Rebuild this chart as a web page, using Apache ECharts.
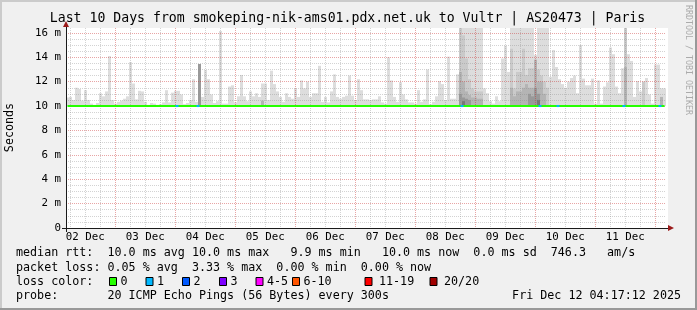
<!DOCTYPE html>
<html><head><meta charset="utf-8">
<script src="https://cdn.jsdelivr.net/npm/echarts@6/dist/echarts.min.js"></script>
<style>html,body{margin:0;padding:0;background:#f0f0f0}#c{width:697px;height:310px}</style>
</head><body><div id="c"></div>
<script>
// ---------------- data ----------------
const titleText = 'Last 10 Days from smokeping-nik-ams01.pdx.net.uk to Vultr | AS20473 | Paris';
const yAxisTitle = 'Seconds';
const watermark = 'RRDTOOL / TOBI OETIKER';
const dayLabels = ['02 Dec','03 Dec','04 Dec','05 Dec','06 Dec','07 Dec','08 Dec','09 Dec','10 Dec','11 Dec'];
const rangeStartHour = 4.2867;   // hours after 02 Dec 00:00 (Dec 2 04:17:12)
const rangeEndHour = 244.2867;   // Dec 12 04:17:12
const yTicks = [0, 2, 4, 6, 8, 10, 12, 14, 16];
const yMaxMs = 16.4;
const smokeFloor = 10.0;

// highest ping per 72-minute column (ms)
const smokeMax = [
  10.7,10.75,10.5,11.5,11.4,10.45,11.3,10.5,10.2,10.1,
  10.25,11.05,10.8,11.2,14.1,10.5,10.2,10.35,10.45,10.6,
  10.8,13.6,11.85,10.55,11.25,11.2,10.35,10.1,10.25,10.2,
  10.1,10.15,10.3,11.3,10.3,11.1,11.25,11.25,10.95,10.15,
  10.25,10.5,12.2,10.35,13.45,10.75,12.95,12.2,10.95,10.25,
  10.4,16.15,10.2,10.2,11.6,11.7,10.3,10.8,12.55,10.8,
  10.4,11.2,10.8,11.05,10.75,11.85,11.85,10.5,12.9,11.8,
  11.2,10.75,10.35,11.05,10.75,10.6,11.45,10.75,12.1,11.45,
  12.0,10.75,11.05,11.05,13.3,10.35,10.75,10.3,11.2,12.6,
  10.75,10.6,10.75,10.85,12.5,10.85,10.5,12.2,11.3,10.55,
  10.55,10.5,10.55,10.55,10.8,10.3,10.2,14.0,12.1,10.75,
  10.35,11.95,10.95,10.55,10.3,10.3,10.2,11.3,10.35,10.55,
  13.0,10.15,10.35,10.8,12.05,11.8,10.5,14.05,10.6,10.6,
  12.6,16.4,16.4,16.4,16.4,16.4,16.4,16.4,16.4,11.45,
  11.05,10.4,10.2,10.8,10.4,13.9,14.95,12.8,16.4,16.4,
  16.4,16.4,16.4,16.4,16.4,16.4,14.2,16.4,16.4,16.4,
  16.4,12.4,14.6,13.2,12.2,11.8,11.5,12.0,12.3,12.5,
  11.05,15.0,12.25,11.7,11.7,12.25,10.2,12.1,10.2,11.6,
  11.95,14.8,14.25,11.6,11.05,13.1,16.4,14.25,13.7,10.75,
  12.05,11.2,12.0,12.3,10.95,10.2,13.4,13.4,11.45,11.45
];
// inner smoke layers: [column, upper ms]
const smoke2 = [[131,16.4],[132,15.8],[133,13.9],[134,12.2],[135,11.45],[136,11.2],[137,11.2],[138,11.2],
  [148,14.7],[149,11.45],[150,12.8],[151,12.8],[152,14.7],[153,12.55],[154,13.1],[155,13.1],[156,13.8],
  [157,13.0],[158,12.5],[159,12.0],[160,11.5],[186,16.4],[192,12.0]];
const smoke3 = [[65,10.45],[131,12.8],[132,12.0],[133,11.2],[134,10.9],[135,10.7],[136,10.7],[137,10.6],[138,10.6],
  [148,11.5],[149,10.8],[150,11.2],[151,11.2],[152,11.5],[153,11.8],[154,11.5],[155,11.5],[156,13.8],
  [157,12.0],[158,12.0],[159,11.0],[186,13.2],[198,10.75]];
const smoke4 = [[44,13.45],[131,11.0],[132,10.7],[133,10.6],[134,10.5],[154,11.0],[155,10.8],[156,11.5],[157,11.0]];
const smoke5 = [[132,10.4],[157,10.5]];

// median rtt per column (ms)
const medianRtt = [
  10.0,10.0,10.0,10.0,10.0,10.0,10.0,10.0,10.0,10.0,10.0,10.0,10.0,10.0,10.0,10.0,10.0,10.0,10.0,10.0,
  10.0,10.0,10.0,10.0,10.0,10.0,10.0,10.0,10.0,10.0,10.0,10.0,10.0,10.0,10.0,10.0,10.0,10.0,10.0,10.0,
  10.0,10.0,10.0,10.0,10.0,10.0,10.0,10.0,10.0,10.0,10.0,10.0,10.0,10.0,10.0,10.0,10.0,10.0,10.0,10.0,
  10.0,10.0,10.0,10.0,10.0,10.0,10.0,10.0,10.0,10.0,10.0,10.0,10.0,10.0,10.0,10.0,10.0,10.0,10.0,10.0,
  10.0,10.0,10.0,10.0,10.0,10.0,10.0,10.0,10.0,10.0,10.0,10.0,10.0,10.0,10.0,10.0,10.0,10.0,10.0,10.0,
  10.0,10.0,10.0,10.0,10.0,10.0,10.0,10.0,10.0,10.0,10.0,10.0,10.0,10.0,10.0,10.0,10.0,10.0,10.0,10.0,
  10.0,10.0,10.0,10.0,10.0,10.0,10.0,10.0,10.0,10.0,10.0,10.0,10.0,10.0,10.0,10.0,10.0,10.0,10.0,10.0,
  10.0,10.0,10.0,10.0,10.0,10.0,10.0,10.0,10.0,10.0,10.0,10.0,10.0,10.0,10.0,10.0,10.0,10.0,10.0,10.0,
  10.0,10.0,10.0,10.0,10.0,10.0,10.0,10.0,10.0,10.0,10.0,10.0,10.0,10.0,10.0,10.0,10.0,10.0,10.0,10.0,
  10.0,10.0,10.0,10.0,10.0,10.0,10.0,10.0,10.0,10.0,10.0,10.0,10.0,10.0,10.0,10.0,10.0,10.0,10.0,10.0
];
// packet loss events: [column, lost pings of 20]
const lossEvents = [[36,1],[43,1],[131,1],[157,1],[163,1],[185,1],[197,1]];
const lossLegend = [['0','#26ff00',0],['1','#00b8ff',1],['2','#0059ff',2],['3','#7e00ff',3],
  ['4-5','#ff00ff',5],['6-10','#ff5500',10],['11-19','#ff0000',19],['20/20','#a10000',20]];
const statsLines = [
  'median rtt:  10.0 ms avg 10.0 ms max   9.9 ms min   10.0 ms now  0.0 ms sd  746.3   am/s',
  'packet loss: 0.05 % avg  3.33 % max  0.00 % min  0.00 % now',
  'loss color:',
  'probe:       20 ICMP Echo Pings (56 Bytes) every 300s'
];
const timestampText = 'Fri Dec 12 04:17:12 2025';

// ---------------- layout / style ----------------
const FONT = '"DejaVu Sans Mono", monospace';
const GRID = {left: 66, top: 28, right: 31, bottom: 82};
const RED_GRID = 'rgba(200,40,40,0.42)';
const GRAY_GRID = 'rgba(140,140,140,0.38)';
const AXIS_COL = '#1a1a1a';
const ARROW_COL = '#9b1b1b';
const legendBoxX = [109.5, 146, 182.5, 219.5, 256, 292.5, 365, 430];
const legendTextX = [120.5, 157, 193.5, 230.5, 267, 303.5, 379, 444];
const lineY = [253.3, 268, 281.5, 296.2];

const bins = smokeMax.map((_, i) => i);
function sparse(pairs) { const a = bins.map(() => null); pairs.forEach(p => { a[p[0]] = p[1]; }); return a; }
function lossColor(n) { for (const l of lossLegend) { if (n <= l[2]) return l[1]; } return lossLegend[lossLegend.length-1][1]; }

const majorHours = [], minorHours = [];
for (let h = 6; h < rangeEndHour; h += 6) {
  if (h <= rangeStartHour) continue;
  if (h % 24 === 0) majorHours.push(h); else minorHours.push(h);
}
const labelHours = dayLabels.map((_, i) => 12 + 24 * i);
const yMinor = [];
for (let v = 0.5; v < yMaxMs; v += 0.5) { if (v % 2 !== 0) yMinor.push(v); }

const layers = [
  {tops: smokeMax, color: '#dddddd'},
  {tops: sparse(smoke2), color: '#cacaca'},
  {tops: sparse(smoke3), color: '#b4b4b4'},
  {tops: sparse(smoke4), color: '#999999'},
  {tops: sparse(smoke5), color: '#777777'}
];
const series = [];
layers.forEach((L, j) => {
  const common = {type: 'bar', xAxisIndex: 2, yAxisIndex: 0, stack: 'L' + j, barWidth: 3, barGap: '-100%',
    silent: true, z: 2, emphasis: {disabled: true}};
  series.push(Object.assign({}, common, {itemStyle: {color: 'rgba(0,0,0,0)'},
    data: L.tops.map(t => t == null ? null : smokeFloor)}));
  series.push(Object.assign({}, common, {itemStyle: {color: L.color},
    data: L.tops.map(t => t == null ? null : +(t - smokeFloor).toFixed(3))}));
});
series.push({type: 'line', xAxisIndex: 2, yAxisIndex: 0, data: medianRtt, symbol: 'none', silent: true, z: 10,
  lineStyle: {color: lossLegend[0][1], width: 2}, emphasis: {disabled: true}});
lossEvents.forEach(ev => {
  const d = bins.map(() => null);
  d[ev[0]] = medianRtt[ev[0]];
  if (ev[0] + 1 < d.length) d[ev[0] + 1] = medianRtt[ev[0] + 1];
  series.push({type: 'line', xAxisIndex: 2, yAxisIndex: 0, data: d, symbol: 'none', silent: true, z: 11,
    lineStyle: {color: lossColor(ev[1]), width: 2}, emphasis: {disabled: true}});
});

const gx0 = GRID.left, gy1 = 310 - GRID.bottom, gx1 = 697 - GRID.right, gy0 = GRID.top;
const graphics = [
  {type: 'rect', shape: {x: gx1, y: gy0, width: 2, height: gy1 - gy0}, style: {fill: '#ffffff'}, z: -1, silent: true},
  {type: 'rect', shape: {x: 0, y: 0, width: 697, height: 2}, style: {fill: '#cbcbcb'}, z: 50},
  {type: 'rect', shape: {x: 0, y: 0, width: 2, height: 310}, style: {fill: '#cbcbcb'}, z: 50},
  {type: 'rect', shape: {x: 0, y: 308, width: 697, height: 2}, style: {fill: '#999999'}, z: 51},
  {type: 'rect', shape: {x: 695, y: 0, width: 2, height: 310}, style: {fill: '#999999'}, z: 51},
  {type: 'text', x: 347.5, y: 19, style: {text: titleText, font: '13.2px ' + FONT, fill: '#000', align: 'center', verticalAlign: 'middle'}, z: 100},
  {type: 'text', x: 9.5, y: 127.5, rotation: Math.PI / 2, style: {text: yAxisTitle, font: '11.7px ' + FONT, fill: '#000', align: 'center', verticalAlign: 'middle'}, z: 100},
  {type: 'text', x: 688, y: 60, rotation: -Math.PI / 2, style: {text: watermark, font: '8.3px ' + FONT, fill: '#ababab', align: 'center', verticalAlign: 'middle'}, z: 100},
  {type: 'polygon', shape: {points: [[gx0 - 3, gy0 - 1], [gx0 + 3, gy0 - 1], [gx0, gy0 - 7]]}, style: {fill: ARROW_COL}, z: 100},
  {type: 'polygon', shape: {points: [[gx1 + 2, gy1 - 3], [gx1 + 2, gy1 + 3], [gx1 + 8, gy1]]}, style: {fill: ARROW_COL}, z: 100},
  {type: 'line', shape: {x1: gx0 - 4, y1: gy1 + 0.5, x2: gx1 + 2, y2: gy1 + 0.5}, style: {stroke: AXIS_COL, lineWidth: 1}, z: 99},
  {type: 'line', shape: {x1: gx0 + 0.5, y1: gy1 + 4, x2: gx0 + 0.5, y2: gy0 - 1}, style: {stroke: AXIS_COL, lineWidth: 1}, z: 99},
  {type: 'text', x: 681, y: lineY[3], style: {text: timestampText, font: '11.7px ' + FONT, fill: '#000', align: 'right', verticalAlign: 'middle'}, z: 100}
];
statsLines.forEach((t, i) => graphics.push({type: 'text', x: 16, y: lineY[i],
  style: {text: t, font: '11.7px ' + FONT, fill: '#000', align: 'left', verticalAlign: 'middle'}, z: 100}));
lossLegend.forEach((l, i) => {
  graphics.push({type: 'rect', shape: {x: legendBoxX[i], y: lineY[2] - 4, width: 7, height: 8},
    style: {fill: l[1], stroke: '#000', lineWidth: 1}, z: 100});
  graphics.push({type: 'text', x: legendTextX[i], y: lineY[2],
    style: {text: l[0], font: '11.7px ' + FONT, fill: '#000', align: 'left', verticalAlign: 'middle'}, z: 100});
});

const chart = echarts.init(document.getElementById('c'), null, {renderer: 'canvas', width: 697, height: 310});
chart.setOption({
  animation: false,
  backgroundColor: '#f0f0f0',
  grid: Object.assign({show: true, backgroundColor: '#ffffff', borderWidth: 0, containLabel: false}, GRID),
  xAxis: [
    {type: 'value', min: rangeStartHour, max: rangeEndHour, position: 'bottom', z: 5,
      axisLine: {show: false},
      axisTick: {show: false, customValues: majorHours},
      axisLabel: {show: true, customValues: labelHours, margin: 4, color: '#000', fontFamily: FONT, fontSize: 10.8,
        formatter: v => dayLabels[Math.round((v - 12) / 24)] || ''},
      splitLine: {show: true, lineStyle: {color: RED_GRID, width: 1, type: [1, 1]}}},
    {type: 'value', min: rangeStartHour, max: rangeEndHour, position: 'top', z: 4,
      axisLine: {show: false}, axisLabel: {show: false},
      axisTick: {show: false, customValues: minorHours},
      splitLine: {show: true, lineStyle: {color: GRAY_GRID, width: 1, type: [1, 1]}}},
    {type: 'category', data: bins, show: false, boundaryGap: true}
  ],
  yAxis: [
    {type: 'value', min: 0, max: yMaxMs, position: 'left', z: 5,
      axisLine: {show: false},
      axisTick: {show: false, customValues: yTicks.filter(v => v > 0)},
      axisLabel: {show: true, customValues: yTicks, margin: 5, color: '#000', fontFamily: FONT, fontSize: 10.8,
        formatter: v => v === 0 ? '0' : v + ' m'},
      splitLine: {show: true, lineStyle: {color: RED_GRID, width: 1, type: [1, 1]}}},
    {type: 'value', min: 0, max: yMaxMs, position: 'right', z: 4,
      axisLine: {show: false}, axisLabel: {show: false},
      axisTick: {show: false, customValues: yMinor},
      splitLine: {show: true, lineStyle: {color: GRAY_GRID, width: 1, type: [1, 1]}}}
  ],
  series: series,
  graphic: {elements: graphics}
});
</script>
</body></html>
